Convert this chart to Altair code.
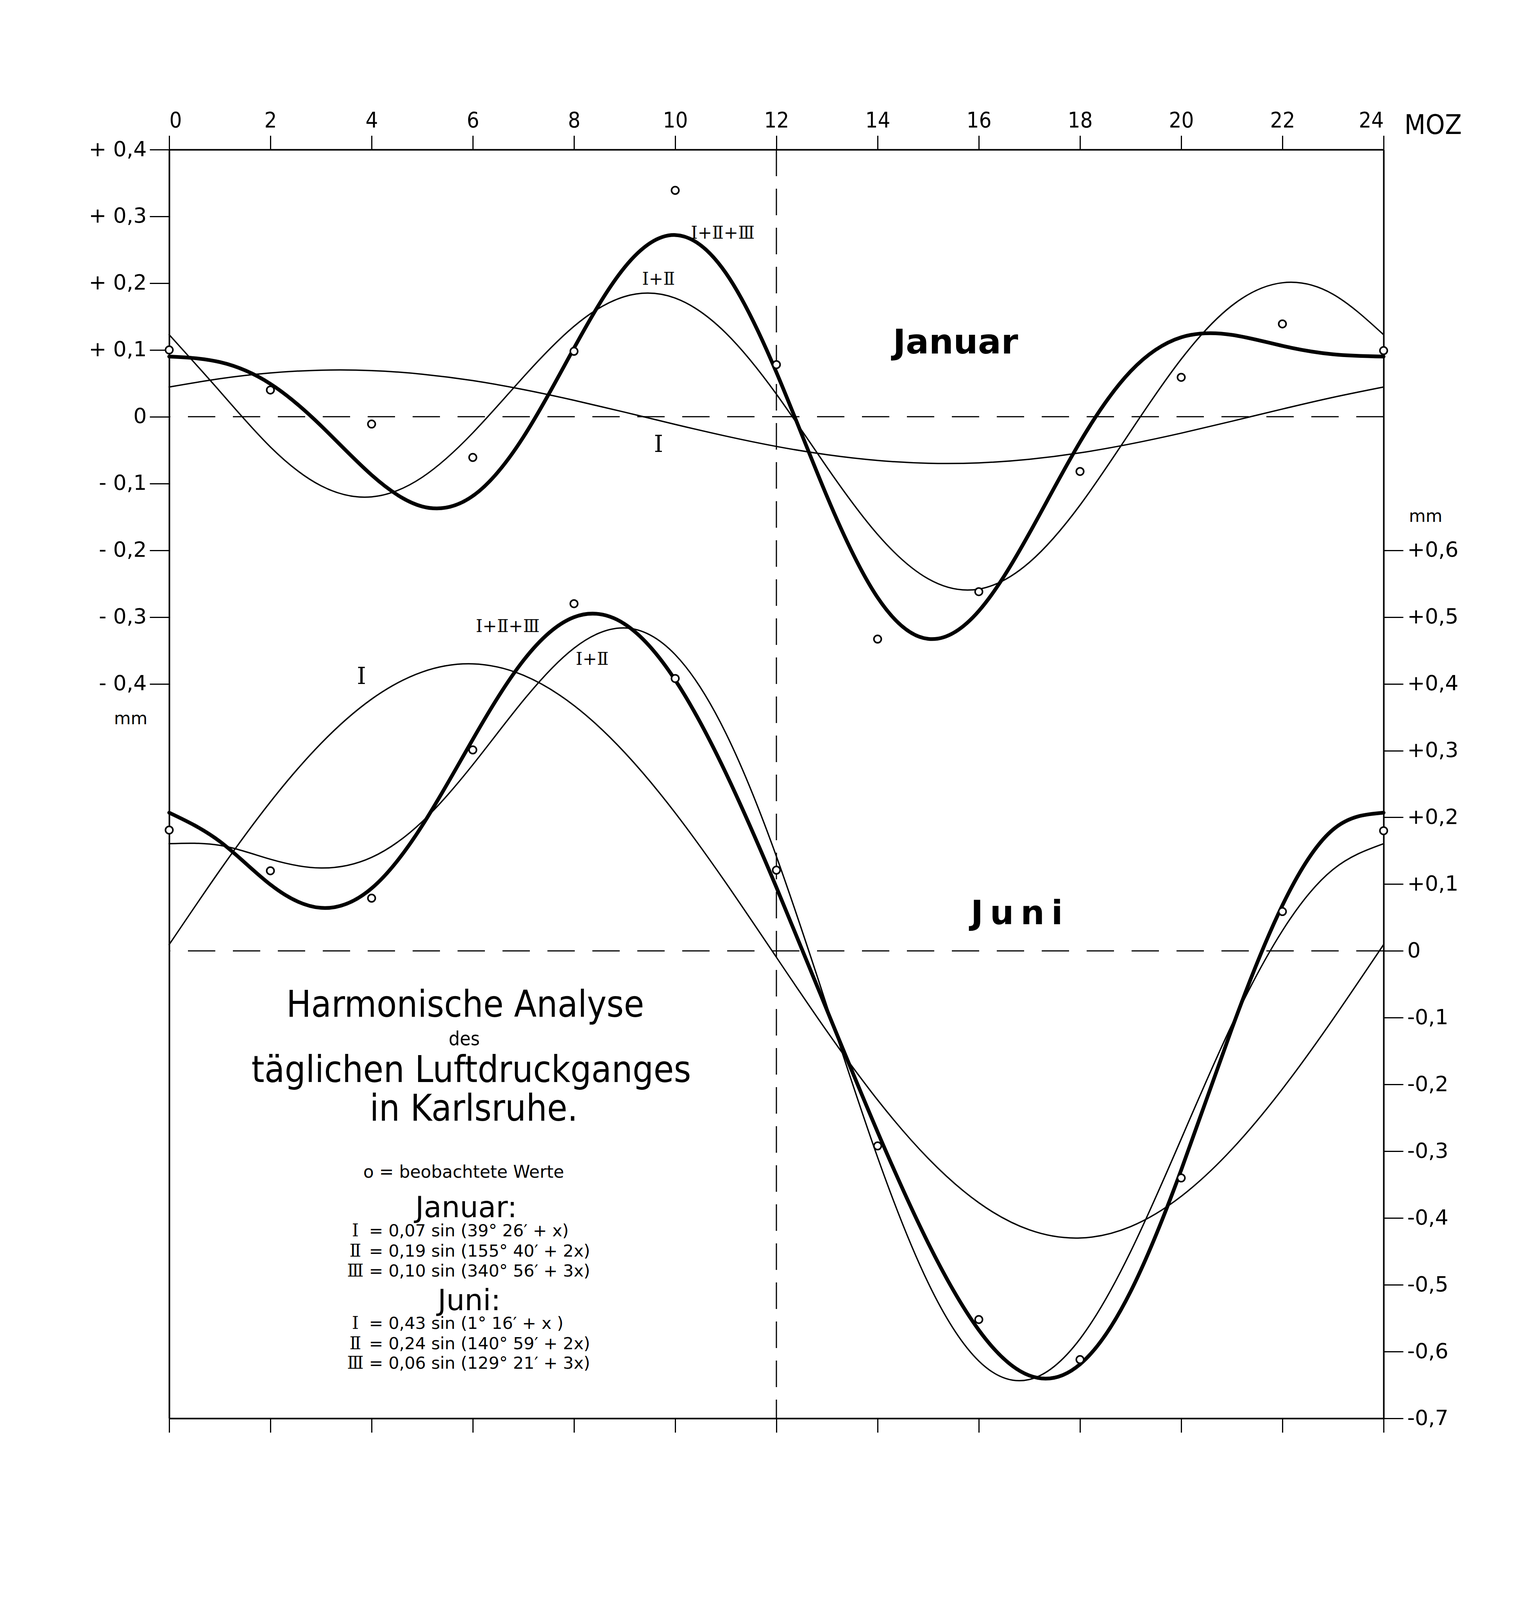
import altair as alt
import pandas as pd

# ---------------- data ----------------
hours = list(range(25))

jan_I = [0.0445, 0.0569, 0.0655, 0.0697, 0.0691, 0.0637, 0.0541, 0.0407, 0.0246, 0.0068, -0.0115, -0.0290,
         -0.0445, -0.0569, -0.0655, -0.0697, -0.0691, -0.0637, -0.0541, -0.0407, -0.0246, -0.0068, 0.0115, 0.0290, 0.0445]
jan_I_II = [0.1228, 0.0381, -0.0453, -0.1034, -0.1200, -0.0907, -0.0242, 0.0595, 0.1354, 0.1799, 0.1776, 0.1254,
            0.0338, -0.0757, -0.1763, -0.2428, -0.2582, -0.2181, -0.1324, -0.0219, 0.0862, 0.1663, 0.2006, 0.1834, 0.1228]
jan_I_II_III = [0.0901, 0.0818, 0.0492, -0.0135, -0.0873, -0.1344, -0.1187, -0.0304, 0.1027, 0.2236, 0.2721, 0.2153,
                0.0665, -0.1194, -0.2708, -0.3327, -0.2909, -0.1744, -0.0379, 0.0680, 0.1189, 0.1226, 0.1061, 0.0935, 0.0901]

juni_I = [0.0095, 0.1205, 0.2232, 0.3107, 0.3771, 0.4177, 0.4299, 0.4128, 0.3675, 0.2972, 0.2067, 0.1021,
          -0.0095, -0.1205, -0.2232, -0.3107, -0.3771, -0.4177, -0.4299, -0.4128, -0.3675, -0.2972, -0.2067, -0.1021, 0.0095]
juni_I_II = [0.1606, 0.1581, 0.1373, 0.1242, 0.1401, 0.1936, 0.2788, 0.3752, 0.4534, 0.4837, 0.4437, 0.3262,
             0.1416, -0.0829, -0.3091, -0.4972, -0.6141, -0.6418, -0.5810, -0.4504, -0.2816, -0.1107, 0.0303, 0.1220, 0.1606]
juni_I_II_III = [0.2070, 0.1640, 0.0993, 0.0645, 0.0937, 0.1877, 0.3168, 0.4349, 0.4998, 0.4896, 0.4057, 0.2665,
                 0.0952, -0.0888, -0.2711, -0.4375, -0.5677, -0.6359, -0.6190, -0.5101, -0.3280, -0.1166, 0.0683, 0.1817, 0.2070]

obs_hours = [0, 2, 4, 6, 8, 10, 12, 14, 16, 18, 20, 22, 24]
jan_obs = [0.100, 0.040, -0.011, -0.061, 0.098, 0.339, 0.078, -0.333, -0.262, -0.082, 0.059, 0.139, 0.099]
juni_obs = [0.181, 0.120, 0.079, 0.301, 0.520, 0.408, 0.121, -0.292, -0.552, -0.612, -0.340, 0.059, 0.180]

x_ticks = list(range(0, 25, 2))
jan_ticks = [-0.4, -0.3, -0.2, -0.1, 0.0, 0.1, 0.2, 0.3, 0.4]
juni_ticks = [-0.7, -0.6, -0.5, -0.4, -0.3, -0.2, -0.1, 0.0, 0.1, 0.2, 0.3, 0.4, 0.5, 0.6]
zero_level = [0.0]
mid_hour = [12]

# curve labels
jan_lab_text = ["Ⅰ+Ⅱ+Ⅲ", "Ⅰ+Ⅱ"]
jan_lab_x = [10.94, 9.67]
jan_lab_y = [0.274, 0.205]
jan_one_text = ["Ⅰ"]
jan_one_x = [9.67]
jan_one_y = [-0.042]
juni_lab_text = ["Ⅰ+Ⅱ+Ⅲ", "Ⅰ+Ⅱ"]
juni_lab_x = [6.69, 8.36]
juni_lab_y = [0.485, 0.436]
juni_one_text = ["Ⅰ"]
juni_one_x = [3.8]
juni_one_y = [0.41]

month_jan_text = ["Januar"]
month_jan_x = [15.54]
month_jan_y = [0.11]
month_juni_text = ["J\u2009u\u2009n\u2009i"]
month_juni_x = [16.75]
month_juni_y = [0.055]

mm_left_x, mm_left_y = [-0.76], [-0.453]
mm_right_x, mm_right_y = [24.83], [0.65]

title_text = ["Harmonische Analyse", "täglichen Luftdruckganges", "in Karlsruhe."]
title_x = [5.85, 5.97, 6.02]
title_y = [-0.0988, -0.1963, -0.2543]
des_text, des_x, des_y = ["des"], [5.83], [-0.1415]
obs_text, obs_x, obs_y = ["o  =  beobachtete  Werte"], [5.82], [-0.3396]
head_text = ["Januar:", "Juni:"]
head_x = [5.87, 5.93]
head_y = [-0.399, -0.5377]
num_text = ["Ⅰ", "Ⅱ", "Ⅲ", "Ⅰ", "Ⅱ", "Ⅲ"]
num_x = [3.68] * 6
form_text = ["= 0,07 sin (39° 26′ + x)", "= 0,19 sin (155° 40′ + 2x)", "= 0,10 sin (340° 56′ + 3x)",
             "= 0,43 sin (1° 16′ + x )", "= 0,24 sin (140° 59′ + 2x)", "= 0,06 sin (129° 21′ + 3x)"]
form_x = [3.95] * 6
form_y = [-0.4276, -0.4576, -0.4876, -0.5663, -0.5963, -0.6258]

# ---------------- tables ----------------
def long(series_dict):
    rows = []
    for name, vals in series_dict.items():
        for h, v in zip(hours, vals):
            rows.append({"hour": h, "value": v, "series": name})
    return pd.DataFrame(rows)

jan_thin = long({"I": jan_I, "I+II": jan_I_II})
jan_thick = long({"I+II+III": jan_I_II_III})
juni_thin = long({"I": juni_I, "I+II": juni_I_II})
juni_thick = long({"I+II+III": juni_I_II_III})
jan_pts = pd.DataFrame({"hour": obs_hours, "value": jan_obs})
juni_pts = pd.DataFrame({"hour": obs_hours, "value": juni_obs})

def tdf(t, x, y):
    return pd.DataFrame({"t": t, "x": x, "y": y})

# ---------------- scales & axes ----------------
# The photographed page is 4096 px tall, so the vertical layout is compressed to fit it.
W, H = 3108, 3248
XS = alt.Scale(domain=[0, 24], nice=False, zero=False)
YJ = alt.Scale(domain=[-1.5, 0.4], nice=False, zero=False)
YU = alt.Scale(domain=[-0.7, 1.2], nice=False, zero=False)

COND = "DejaVu Sans Condensed, Liberation Sans Narrow, DejaVu Sans"
SANS = "DejaVu Sans"
SERIF = "DejaVu Serif"

top_axis = alt.Axis(orient="top", values=x_ticks, tickSize=36, tickWidth=3, domainWidth=4,
                    domainColor="black", tickColor="black", labelColor="black",
                    labelFont=COND, labelFontSize=56, labelPadding=10, grid=False,
                    title="MOZ", titleFont=COND, titleFontSize=70, titleFontWeight="normal",
                    titleColor="black", titleAngle=0, titleAlign="center", titleBaseline="alphabetic",
                    titleX=3234, titleY=-41)
bottom_axis = alt.Axis(orient="bottom", values=x_ticks, tickSize=36, tickWidth=3, domainWidth=4,
                       domainColor="black", tickColor="black", labels=False, grid=False, title=None)

left_expr = ("datum.value > 0.001 ? '+ ' + replace(format(datum.value, '.1f'), '.', ',') : "
             "(datum.value < -0.001 ? '- ' + replace(format(-datum.value, '.1f'), '.', ',') : '0')")
right_expr = ("datum.value > 0.001 ? '+' + replace(format(datum.value, '.1f'), '.', ',') : "
              "(datum.value < -0.001 ? '-' + replace(format(-datum.value, '.1f'), '.', ',') : '0')")

jan_axis = alt.Axis(orient="left", values=jan_ticks, labelExpr=left_expr, tickSize=50, tickWidth=3,
                    domainWidth=4, domainColor="black", tickColor="black", labelColor="black",
                    labelFont=SANS, labelFontSize=54, labelPadding=8, grid=False, title=None)
juni_axis = alt.Axis(orient="right", values=juni_ticks, labelExpr=right_expr, tickSize=50, tickWidth=3,
                     domainWidth=4, domainColor="black", tickColor="black", labelColor="black",
                     labelFont=SANS, labelFontSize=54, labelPadding=10, grid=False, title=None)

# ---------------- layers ----------------
layers = []

layers.append(alt.Chart(pd.DataFrame({"v": zero_level})).mark_rule(
    strokeDash=[70, 45], strokeWidth=3, color="black").encode(
    y=alt.Y("v:Q", scale=YJ, axis=jan_axis)))
layers.append(alt.Chart(pd.DataFrame({"v": zero_level})).mark_rule(
    strokeDash=[70, 45], strokeWidth=3, color="black").encode(
    y=alt.Y("v:Q", scale=YU, axis=juni_axis)))
layers.append(alt.Chart(pd.DataFrame({"h": mid_hour})).mark_rule(
    strokeDash=[68, 32], strokeWidth=3, color="black").encode(
    x=alt.X("h:Q", scale=XS, axis=None)))

def lines(df, ys, width, xaxis=None):
    return alt.Chart(df).mark_line(interpolate="natural", strokeWidth=width, color="black",
                                   strokeCap="round", strokeJoin="round").encode(
        x=alt.X("hour:Q", scale=XS, axis=xaxis),
        y=alt.Y("value:Q", scale=ys, axis=None),
        detail="series:N")

layers.append(lines(jan_thin, YJ, 3.5, top_axis))
layers.append(lines(jan_thick, YJ, 9.5))
layers.append(lines(juni_thin, YU, 3.5, bottom_axis))
layers.append(lines(juni_thick, YU, 9.5))

def pts(df, ys):
    return alt.Chart(df).mark_point(shape="circle", filled=True, fill="white", stroke="black",
                                    strokeWidth=4, size=360, opacity=1).encode(
        x=alt.X("hour:Q", scale=XS, axis=None),
        y=alt.Y("value:Q", scale=ys, axis=None))

layers.append(pts(jan_pts, YJ))
layers.append(pts(juni_pts, YU))

def texts(df, ys, font, size, weight="normal", align="center", baseline="middle"):
    return alt.Chart(df).mark_text(font=font, fontSize=size, fontWeight=weight, align=align,
                                   baseline=baseline, color="black").encode(
        x=alt.X("x:Q", scale=XS, axis=None),
        y=alt.Y("y:Q", scale=ys, axis=None),
        text="t:N")

layers.append(texts(tdf(jan_lab_text, jan_lab_x, jan_lab_y), YJ, SERIF, 44))
layers.append(texts(tdf(jan_one_text, jan_one_x, jan_one_y), YJ, SERIF, 60))
layers.append(texts(tdf(juni_lab_text, juni_lab_x, juni_lab_y), YU, SERIF, 44))
layers.append(texts(tdf(juni_one_text, juni_one_x, juni_one_y), YU, SERIF, 60))
layers.append(texts(tdf(month_jan_text, month_jan_x, month_jan_y), YJ, SANS, 88, "bold"))
layers.append(texts(tdf(month_juni_text, month_juni_x, month_juni_y), YU, SANS, 86, "bold"))
layers.append(texts(tdf(["mm"], mm_left_x, mm_left_y), YJ, SANS, 44))
layers.append(texts(tdf(["mm"], mm_right_x, mm_right_y), YU, SANS, 44))

layers.append(texts(tdf(title_text, title_x, title_y), YU, COND, 94, baseline="alphabetic"))
layers.append(texts(tdf(des_text, des_x, des_y), YU, COND, 50, baseline="alphabetic"))
layers.append(texts(tdf(obs_text, obs_x, obs_y), YU, SANS, 44, baseline="alphabetic"))
layers.append(texts(tdf(head_text, head_x, head_y), YU, SANS, 74, baseline="alphabetic"))
layers.append(texts(tdf(num_text, num_x, form_y), YU, SERIF, 44, baseline="alphabetic"))
layers.append(texts(tdf(form_text, form_x, form_y), YU, SANS, 43, align="left", baseline="alphabetic"))

chart = alt.layer(*layers).resolve_scale(y="independent").resolve_axis(x="independent").properties(
    width=W, height=H,
    autosize=alt.AutoSizeParams(type="none"),
    padding={"left": 425, "top": 375, "right": 380, "bottom": 70},
    background="white",
).configure_view(stroke=None)

chart.save("out.html", embed_options={"renderer": "svg", "actions": False})
